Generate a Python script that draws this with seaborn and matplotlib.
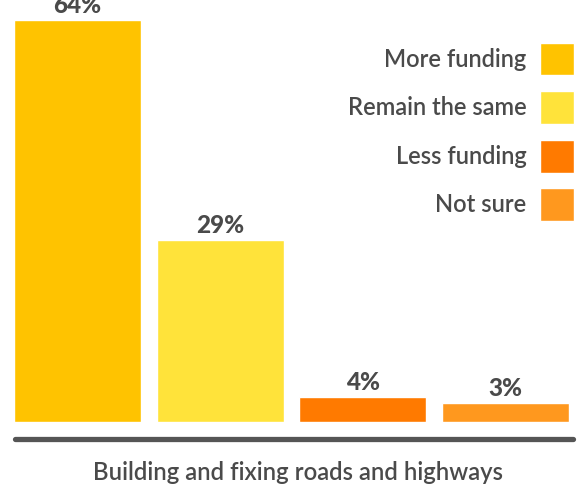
import matplotlib
matplotlib.use("Agg")
import matplotlib.pyplot as plt
import seaborn as sns
import pandas as pd

# Survey responses for a single spending area
group = "Building and fixing roads and highways"
responses = ["More funding", "Remain the same", "Less funding", "Not sure"]
shares = [64, 29, 4, 3]
colors = ["#FFC300", "#FFE33A", "#FF7A00", "#FF981E"]

df = pd.DataFrame({"response": responses, "share": shares})

sns.set_theme(style="white")
plt.rcParams["font.family"] = ["Lato", "DejaVu Sans"]
text_color = "#4a4a4a"

fig = plt.figure(figsize=(5.79, 4.91), dpi=100)
ax = fig.add_axes([0, 69 / 491, 1, 422 / 491])

sns.barplot(data=df, x="response", y="share", hue="response",
            order=responses, hue_order=responses, palette=colors,
            width=0.89, dodge=False, legend=True, ax=ax, saturation=1)

ax.set_xlim(-0.543, 3.514)
ax.set_ylim(0, 422 / 6.28)
ax.set_axis_off()

for cont in ax.containers:
    ax.bar_label(cont, fmt="%g%%", padding=2, fontsize=17.5,
                 fontweight="black", color=text_color)

# Baseline under the bars
ax.plot([-0.44, 3.47], [-2.7, -2.7], color="#555555", lw=3.8,
        solid_capstyle="round", clip_on=False)

fig.text(298 / 579, 1 - 472 / 491, group, ha="center", va="center",
         fontsize=17.2, fontweight="semibold", color=text_color)

handles, labels = ax.get_legend_handles_labels()
leg = ax.legend(handles, labels, loc="upper right",
                bbox_to_anchor=(574 / 579, 1 - 42.5 / 422),
                frameon=False, markerfirst=False,
                prop={"size": 17, "weight": "semibold"},
                handlelength=1.45, handleheight=1.77, handletextpad=0.57,
                labelspacing=0.66, borderpad=0, borderaxespad=0)
for t in leg.get_texts():
    t.set_color(text_color)

fig.savefig("out.png", dpi=100)
